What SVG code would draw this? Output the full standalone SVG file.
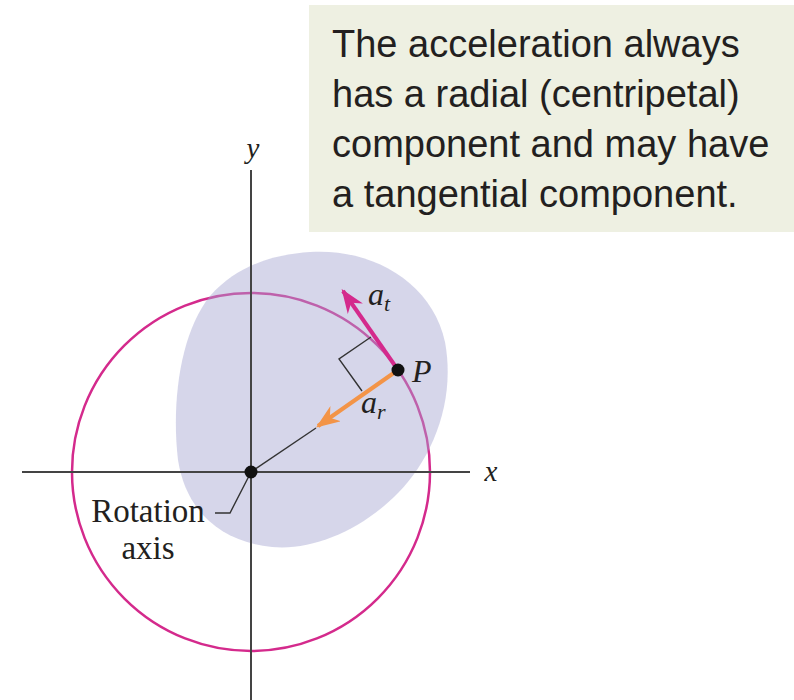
<svg xmlns="http://www.w3.org/2000/svg" width="794" height="700" viewBox="0 0 794 700">
<style>
.cap{font-family:"Liberation Sans",Arial,sans-serif;font-size:38px;fill:#231f20}
.lab{font-family:"Liberation Serif","Times New Roman",serif;fill:#231f20}
.it{font-style:italic}
.axis{stroke:#444;stroke-width:2;fill:none}
.thin{stroke:#333;stroke-width:1.4;fill:none}
</style>
<defs>
<marker id="hm" viewBox="0 0 10 10" refX="9" refY="5" markerWidth="6" markerHeight="4.6" markerUnits="strokeWidth" orient="auto" preserveAspectRatio="none"><path d="M0,0 L10,5 L0,10 L3,5 Z" fill="#d42a8c"/></marker>
<marker id="ho" viewBox="0 0 10 10" refX="9" refY="5" markerWidth="6" markerHeight="4.6" markerUnits="strokeWidth" orient="auto" preserveAspectRatio="none"><path d="M0,0 L10,5 L0,10 L3,5 Z" fill="#f39447"/></marker>
</defs>
<rect width="794" height="700" fill="#fff"/>
<g id="caption">
<rect x="309" y="5" width="485" height="227" fill="#eef0e2"/>
<text class="cap" x="332" y="57">The acceleration always</text>
<text class="cap" x="332" y="107">has a radial (centripetal)</text>
<text class="cap" x="332" y="157">component and may have</text>
<text class="cap" x="332" y="207">a tangential component.</text>
</g>
<g id="circle">
<circle cx="251" cy="472" r="179" fill="none" stroke="#d42a8c" stroke-width="2.5"/>
</g>
<g id="body">
<path d="M310,252 C372,248 432,282 445,342 C456,402 432,458 398,493 C362,530 312,551 272,547 C222,542 186,512 178,460 C171,400 181,332 210,296 C240,262 280,254 310,252 Z" fill="#a4a4d1" fill-opacity="0.45"/>
</g>
<g id="axes">
<line class="axis" x1="251" y1="170" x2="251" y2="700"/>
<line class="axis" x1="22" y1="472" x2="470" y2="472"/>
<text class="lab it" x="253" y="158" font-size="29" text-anchor="middle">y</text>
<text class="lab it" x="491" y="481" font-size="29" text-anchor="middle">x</text>
</g>
<g id="connectors">
<line class="thin" x1="316" y1="428" x2="251" y2="472"/>
<polyline class="thin" points="215,513 230,513 250,474"/>
<polyline class="thin" points="371,337 339,359 362,391"/>
<line x1="398" y1="370" x2="343" y2="291" stroke="#d42a8c" stroke-width="4" marker-end="url(#hm)"/>
<line x1="398" y1="370" x2="318" y2="426" stroke="#f39447" stroke-width="4" marker-end="url(#ho)"/>
</g>
<g id="P">
<circle cx="398" cy="370" r="6.5" fill="#111"/>
<text class="lab it" x="412" y="382" font-size="32">P</text>
</g>
<g id="origin">
<circle cx="251" cy="472" r="6.5" fill="#111"/>
<text class="lab" x="148" y="522" font-size="33" text-anchor="middle">Rotation</text>
<text class="lab" x="148" y="559" font-size="33" text-anchor="middle">axis</text>
</g>
<g id="labels">
<text class="lab it" x="368" y="305" font-size="32">a<tspan font-size="22" dy="6">t</tspan></text>
<text class="lab it" x="361" y="413" font-size="32">a<tspan font-size="22" dy="6">r</tspan></text>
</g>
</svg>
